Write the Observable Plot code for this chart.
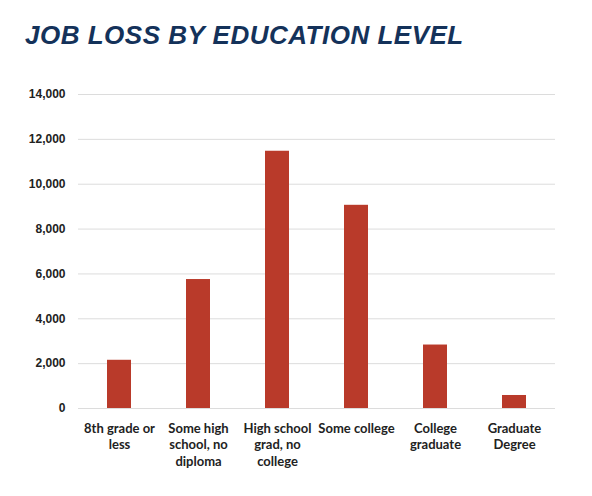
<!DOCTYPE html>
<html>
<head>
<meta charset="utf-8">
<script src="https://cdn.jsdelivr.net/npm/d3@7"></script>
<script src="https://cdn.jsdelivr.net/npm/@observablehq/plot@0.6"></script>
<style>
  html, body { margin: 0; padding: 0; background: #fff; }
  #title { height: 70px; box-sizing: border-box; padding: 20px 0 0 25px;
    font: italic bold 26px/30px "Liberation Sans", Arial, sans-serif; color: #14325a; letter-spacing: 0.5px; }
</style>
</head>
<body>
<div id="title">JOB LOSS BY EDUCATION LEVEL</div>
<div id="chart"></div>
<script>
const categories = ["8th grade or less", "Some high school, no diploma", "High school grad, no college", "Some college", "College graduate", "Graduate Degree"];
const tickLabels = ["8th grade or\nless", "Some high\nschool, no\ndiploma", "High school\ngrad, no\ncollege", "Some college", "College\ngraduate", "Graduate\nDegree"];
const jobLoss = [2150, 5750, 11470, 9060, 2830, 580];
const yTicks = [0, 2000, 4000, 6000, 8000, 10000, 12000, 14000];

const data = categories.map((c, i) => ({category: c, value: jobLoss[i]}));
const labelOf = new Map(categories.map((c, i) => [c, tickLabels[i]]));

const chart = Plot.plot({
  width: 592,
  height: 426,
  marginTop: 24,
  marginBottom: 88,
  marginLeft: 78,
  marginRight: 37,
  style: {fontFamily: "Lato, sans-serif", background: "#fff"},
  x: {domain: categories, paddingInner: 0.69, paddingOuter: 0.345, label: null},
  y: {domain: [0, 14000], label: null},
  marks: [
    Plot.gridY(yTicks, {stroke: "#dcdcdc", strokeOpacity: 1, strokeWidth: 1}),
    Plot.barY(data, {x: "category", y: "value", fill: "#b93a2a"}),
    Plot.axisY(yTicks, {tickSize: 0, tickPadding: 13, tickFormat: d3.format(","), fontSize: 12, fontWeight: "bold", fontFamily: "'Liberation Sans', Arial, sans-serif", fill: "#222", label: null}),
    Plot.axisX({tickSize: 0, tickPadding: 12, tickFormat: d => labelOf.get(d), fontSize: 13, fontWeight: "bold", lineHeight: 1.3, fill: "#222", label: null})
  ]
});
document.getElementById("chart").appendChild(chart);
</script>
</body>
</html>
